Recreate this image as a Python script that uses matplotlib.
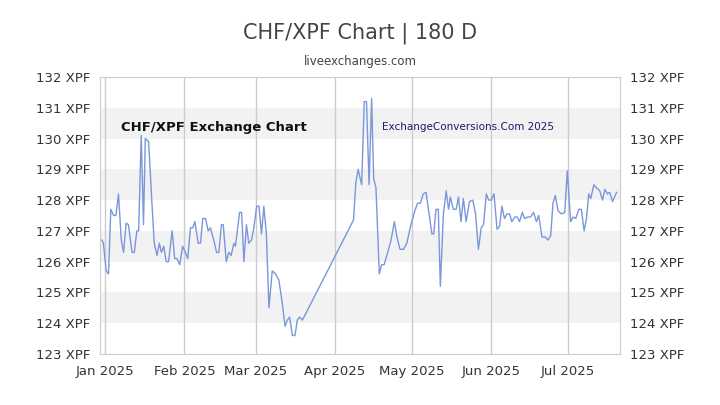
import matplotlib
matplotlib.use("Agg")
import matplotlib.pyplot as plt
import datetime as dt

days = [-1.3,-0.7,0.4,1.3,2.2,3.3,4.2,5.2,6.3,7.2,8.2,9.1,10.5,11.4,12.4,13.1,14.1,15.0,15.7,17.0,
        18.3,19.2,20.3,21.2,22.0,22.9,23.9,24.8,26.2,27.2,28.1,29.2,30.3,31.4,32.3,33.4,34.3,35.1,36.4,37.3,
        38.2,39.3,40.3,41.2,42.5,43.6,44.5,45.5,46.2,47.4,48.4,49.3,50.4,51.0,52.6,53.4,54.3,55.3,56.2,57.3,
        58.2,59.3,60.2,61.2,62.1,63.1,64.1,65.4,66.7,68.0,69.4,70.4,71.3,72.2,73.3,74.3,75.2,76.1,77.2,
        97.2,98.1,99.0,100.4,101.4,102.3,103.3,104.3,105.1,106.0,107.3,108.2,109.2,110.6,111.9,113.2,114.2,
        115.4,116.8,118.1,119.4,121.0,122.3,123.4,124.5,125.6,126.9,127.9,128.6,129.5,130.4,131.2,132.4,
        133.5,134.4,135.1,136.3,137.4,138.3,139.3,140.2,141.3,142.6,143.9,145.0,146.1,147.2,148.1,149.2,
        150.1,151.1,152.2,153.4,154.4,155.3,156.3,157.3,158.3,159.2,160.3,161.3,162.2,163.3,164.2,165.5,
        166.5,167.7,168.8,169.7,171.0,172.3,173.4,174.4,175.3,176.2,177.3,178.6,179.9,180.9,182.2,183.2,
        184.2,185.4,186.4,187.5,188.4,189.3,190.1,191.3,192.3,193.6,194.7,195.6,196.6,197.5,198.6,200.2]
values = [126.7,126.6,125.7,125.6,127.7,127.5,127.5,128.2,126.7,126.3,127.25,127.2,126.3,126.3,127.0,127.0,130.1,127.2,130.0,129.9,
          127.9,126.6,126.2,126.6,126.3,126.5,126.0,126.0,127.0,126.1,126.1,125.9,126.5,126.3,126.1,127.1,127.1,127.3,126.6,126.6,
          127.4,127.4,127.0,127.1,126.7,126.3,126.3,127.2,127.2,126.0,126.3,126.2,126.6,126.5,127.6,127.6,126.0,127.2,126.6,126.7,
          127.1,127.8,127.8,126.9,127.8,126.9,124.5,125.7,125.6,125.4,124.6,123.9,124.1,124.2,123.6,123.6,124.1,124.2,124.1,
          127.35,128.55,129.0,128.5,131.2,131.2,128.5,131.3,128.7,128.4,125.6,125.9,125.9,126.3,126.7,127.3,126.8,
          126.4,126.4,126.6,127.1,127.6,127.9,127.9,128.2,128.25,127.5,126.9,126.9,127.7,127.7,125.2,127.55,
          128.3,127.7,128.1,127.7,127.7,128.1,127.3,128.05,127.3,127.95,128.0,127.55,126.4,127.1,127.2,128.2,
          128.0,128.0,128.2,127.05,127.15,127.8,127.4,127.55,127.55,127.3,127.45,127.45,127.3,127.6,127.4,127.45,
          127.45,127.6,127.3,127.5,126.8,126.8,126.7,126.85,127.9,128.15,127.65,127.55,127.6,128.95,127.3,127.45,
          127.4,127.7,127.7,127.0,127.4,128.2,128.05,128.5,128.4,128.3,128.0,128.35,128.2,128.25,127.95,128.25]
yticks = [123,124,125,126,127,128,129,130,131,132]
month_ticks = ["2025-01-01","2025-02-01","2025-03-01","2025-04-01","2025-05-01","2025-06-01","2025-07-01"]
month_labels = ["Jan 2025","Feb 2025","Mar 2025","Apr 2025","May 2025","Jun 2025","Jul 2025"]

base = dt.datetime(2025,1,1)
dates = [base + dt.timedelta(days=d) for d in days]
mt = [dt.datetime.strptime(s, "%Y-%m-%d") for s in month_ticks]

fig = plt.figure(figsize=(7.2,4.05), dpi=100)
ax = fig.add_axes([0.139,0.126,0.722,0.684])
ax.set_xlim(base + dt.timedelta(days=-2), base + dt.timedelta(days=201.5))
ax.set_ylim(123,132)
for lo in [124,126,128,130]:
    ax.axhspan(lo, lo+1, color="#f2f2f2", zorder=0, lw=0)
for m in mt:
    ax.axvline(m, color="#cccccc", lw=1, zorder=1)
ax.plot(dates, values, color="#7b96dc", lw=1, zorder=3)
ax.set_yticks(yticks)
ax.set_yticklabels([f"{v} XPF" for v in yticks])
ax.set_xticks(mt)
ax.set_xticklabels(month_labels)
ax.tick_params(axis="y", which="both", labelleft=True, labelright=True, left=False, right=False, labelsize=9.5, colors="#333333")
ax.tick_params(axis="x", length=0, labelsize=9.5, colors="#333333", pad=8)
for s in ax.spines.values():
    s.set_color("#cccccc")
fig.text(0.5, 0.905, "CHF/XPF Chart | 180 D", ha="center", fontsize=15, color="#444444")
fig.text(0.5, 0.84, "liveexchanges.com", ha="center", fontsize=8.5, color="#444444")
ax.text(0.04, 0.805, "CHF/XPF Exchange Chart", transform=ax.transAxes, fontsize=9.5, fontweight="bold",
        color="#111111")
ax.text(0.542, 0.81, "ExchangeConversions.Com 2025", transform=ax.transAxes, fontsize=7.5,
        color="#1a1a6e")
fig.savefig("out.png", dpi=100)
